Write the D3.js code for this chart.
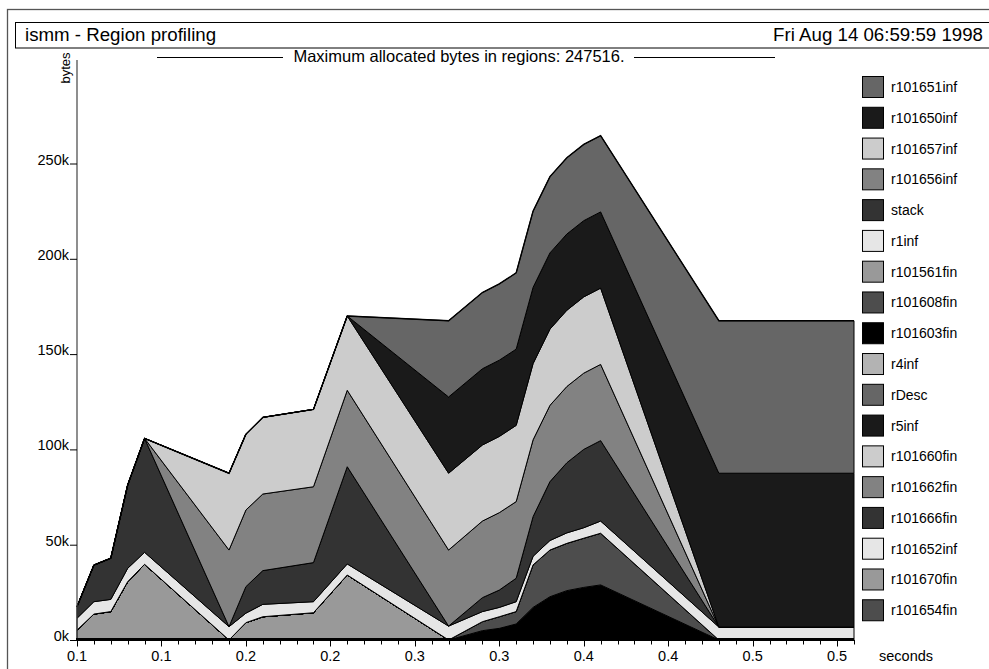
<!DOCTYPE html>
<html><head><meta charset="utf-8">
<script src="https://cdn.jsdelivr.net/npm/d3@7"></script>
<style>
body{margin:0;background:#fff}
svg{display:block}
text{font-family:"Liberation Sans",Arial,Helvetica,sans-serif;fill:#000}
</style>
</head><body>
<svg id="chart" width="989" height="669"></svg>
<script>
// ---------- data ----------
const times = [0.09,0.10,0.11,0.12,0.13,0.18,0.19,0.20,0.23,0.25,0.31,0.33,0.34,0.35,0.36,0.37,0.38,0.39,0.40,0.47,0.55];

// legend order, top to bottom
const regionNames = ["r101651inf","r101650inf","r101657inf","r101656inf","stack","r1inf","r101561fin","r101608fin","r101603fin","r4inf","rDesc","r5inf","r101660fin","r101662fin","r101666fin","r101652inf","r101670fin","r101654fin"];
const regionShades = ["#666666","#1a1a1a","#cccccc","#828282","#333333","#e6e6e6","#999999","#4d4d4d","#000000","#b3b3b3","#666666","#1a1a1a","#cccccc","#828282","#333333","#e6e6e6","#999999","#4d4d4d"];

// bytes per sample
const r101651inf = [0,0,0,0,0,0,0,0,0,0,40000,40000,40000,40000,40000,40000,40000,40000,40000,80000,80000];
const r101650inf = [0,0,0,0,0,0,0,0,0,0,40000,40000,40000,40000,40000,40000,40000,40000,40000,80700,80700];
const r101657inf = [0,0,0,0,0,40300,39800,40200,40600,39000,40300,39900,40000,40000,40000,40000,40000,40000,40000,0,0];
const r101656inf = [0,0,0,0,0,40200,40200,40200,39800,40100,39900,40200,40600,40200,40300,40000,40000,40000,40000,0,0];
const stack      = [6100,19200,21600,43700,59800,0,13900,17700,20500,51000,0,7300,9100,12300,20800,30900,36800,41100,42200,0,0];
const r1inf      = [6200,6500,6400,7000,6300,7000,5000,6500,5800,5800,7300,5300,4900,5200,4500,5000,5500,5500,6400,6800,6800];
const r101561fin = [0,0,0,0,0,0,0,0,0,0,0,0,0,0,0,0,0,0,0,0,0];
const r101608fin = [0,0,0,0,0,0,0,0,0,0,0,4700,6100,6500,22300,24500,24800,25800,27100,0,0];
const r101603fin = [0,0,0,0,0,0,0,0,0,0,0,4900,6100,8400,17100,22700,25900,27600,28900,0,0];
const r4inf      = [0,0,0,0,0,0,0,0,0,0,0,0,0,0,0,0,0,0,0,0,0];
const rDesc      = [0,0,0,0,0,0,0,0,0,0,0,0,0,0,0,0,0,0,0,0,0];
const r5inf      = [0,0,0,0,0,0,0,0,0,0,0,0,0,0,0,0,0,0,0,0,0];
const r101660fin = [0,0,0,0,0,0,0,0,0,0,0,0,0,0,0,0,0,0,0,0,0];
const r101662fin = [0,0,0,0,0,0,0,0,0,0,0,0,0,0,0,0,0,0,0,0,0];
const r101666fin = [0,0,0,0,0,0,0,0,0,0,0,0,0,0,0,0,0,0,0,0,0];
const r101652inf = [0,0,0,0,0,0,0,0,0,0,0,0,0,0,0,0,0,0,0,0,0];
const r101670fin = [5200,13600,14900,30600,39700,0,9100,12200,14300,34100,0,0,0,0,0,0,0,0,0,0,0];
const r101654fin = [0,0,0,0,0,0,0,0,0,0,0,0,0,0,0,0,0,0,0,0,0];

const xTickValues = [0.09,0.14,0.19,0.24,0.29,0.34,0.39,0.44,0.49,0.54];
const xTickLabels = ["0.1","0.1","0.2","0.2","0.3","0.3","0.4","0.4","0.5","0.5"];
const yTickValues = [0,50000,100000,150000,200000,250000];
const yTickLabels = ["0k","50k","100k","150k","200k","250k"];

const titleText = "ismm - Region profiling";
const dateText = "Fri Aug 14 06:59:59 1998";
const subtitleText = "Maximum allocated bytes in regions: 247516.";

// ---------- build ----------
(function(){
const seriesByName = {r101651inf,r101650inf,r101657inf,r101656inf,stack,r1inf,r101561fin,r101608fin,r101603fin,r4inf,rDesc,r5inf,r101660fin,r101662fin,r101666fin,r101652inf,r101670fin,r101654fin};
const rows = times.map((t,i)=>{const o={t}; regionNames.forEach(n=>o[n]=seriesByName[n][i]); return o;});
const shadeOf = {}; regionNames.forEach((n,i)=>shadeOf[n]=regionShades[i]);

const svg = d3.select("#chart");
const x = d3.scaleLinear().domain([0.09,0.55]).range([77,854]);
const y = d3.scaleLinear().domain([0,250000]).range([640,163.5]);

// frames
svg.append("rect").attr("x",7.5).attr("y",9.5).attr("width",1000).attr("height",700)
  .attr("fill","none").attr("stroke","#555").attr("stroke-width",1.3);
svg.append("rect").attr("x",15.5).attr("y",22.5).attr("width",1000).attr("height",25.5)
  .attr("fill","none").attr("stroke","#000").attr("stroke-width",1);
svg.append("text").attr("x",25).attr("y",41).attr("font-size",18.7).text(titleText);
svg.append("text").attr("x",983).attr("y",41).attr("font-size",18.7).attr("text-anchor","end").text(dateText);

// subtitle with side rules
svg.append("text").attr("x",459).attr("y",62).attr("font-size",16.5).attr("text-anchor","middle").text(subtitleText);
svg.append("line").attr("x1",157).attr("x2",283).attr("y1",57.5).attr("y2",57.5).attr("stroke","#000");
svg.append("line").attr("x1",634).attr("x2",775).attr("y1",57.5).attr("y2",57.5).attr("stroke","#000");

// stacked bands (bottom of stack = last legend entry)
const stackOrder = regionNames.slice().reverse();
const layers = d3.stack().keys(stackOrder)(rows);
const area = d3.area().x(d=>x(d.data.t)).y0(d=>y(d[0])).y1(d=>y(d[1]));
svg.append("g").selectAll("path").data(layers).join("path")
  .attr("d",area).attr("fill",d=>shadeOf[d.key])
  .attr("stroke","#000").attr("stroke-width",1).attr("stroke-linejoin","round");
// top outline
const topLayer = layers[layers.length-1];
svg.append("path").attr("d",d3.line().x(d=>x(d.data.t)).y(d=>y(d[1]))(topLayer))
  .attr("fill","none").attr("stroke","#000").attr("stroke-width",1.4);

// y axis
svg.append("line").attr("x1",77).attr("x2",77).attr("y1",60).attr("y2",641).attr("stroke","#444").attr("stroke-width",1.2);
const yg = svg.append("g");
yTickValues.forEach((v,i)=>{
  yg.append("line").attr("x1",70).attr("x2",77).attr("y1",y(v)+0.5).attr("y2",y(v)+0.5).attr("stroke","#000");
  yg.append("text").attr("x",69).attr("y",y(v)+1).attr("text-anchor","end").attr("font-size",14.5).text(yTickLabels[i]);
});
svg.append("text").attr("transform","translate(70,68) rotate(-90)").attr("text-anchor","middle").attr("font-size",13).text("bytes");

// x axis
svg.append("line").attr("x1",76).attr("x2",854).attr("y1",639.5).attr("y2",639.5).attr("stroke","#000").attr("stroke-width",3);
const minor = d3.range(0,47).map(i=>0.09+i*0.01);
const xg = svg.append("g");
minor.forEach(v=>{
  xg.append("line").attr("x1",Math.round(x(v))+0.5).attr("x2",Math.round(x(v))+0.5).attr("y1",640).attr("y2",644.5).attr("stroke","#000");
});
xTickValues.forEach((v,i)=>{
  xg.append("line").attr("x1",Math.round(x(v))+0.5).attr("x2",Math.round(x(v))+0.5).attr("y1",640).attr("y2",646.5).attr("stroke","#000");
  xg.append("text").attr("x",x(v)).attr("y",661).attr("text-anchor","middle").attr("font-size",14.5).text(xTickLabels[i]);
});
svg.append("text").attr("x",879).attr("y",661).attr("font-size",14.5).text("seconds");

// legend
const lg = svg.append("g");
regionNames.forEach((n,i)=>{
  const ty = 76 + i*30.78;
  lg.append("rect").attr("x",862.5).attr("y",ty+0.5).attr("width",21).attr("height",21)
    .attr("fill",regionShades[i]).attr("stroke","#000").attr("stroke-width",1);
  lg.append("text").attr("x",891).attr("y",ty+16).attr("font-size",14).text(n);
});
})();
</script>
</body></html>
